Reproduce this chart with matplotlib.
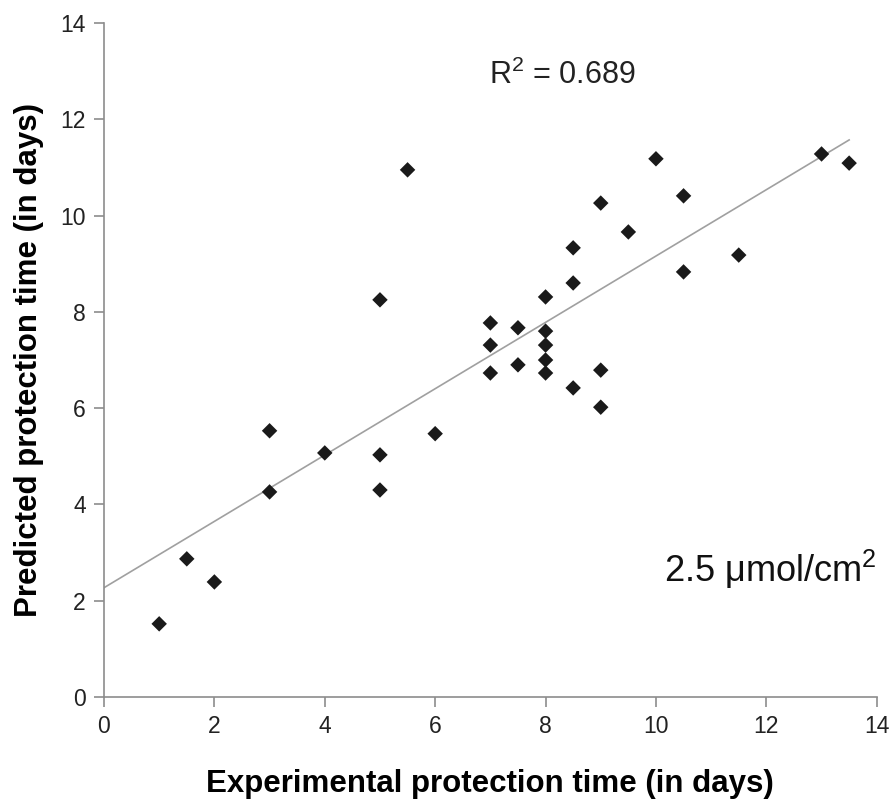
import matplotlib
matplotlib.use("Agg")
import matplotlib.pyplot as plt
import numpy as np

plt.rcParams['font.family'] = ['Liberation Sans', 'DejaVu Sans']

# Experimental vs predicted protection time (days)
experimental = [1, 1.5, 2, 3, 3, 4, 5, 5, 5, 5.5, 6,
                7, 7, 7, 7.5, 7.5, 8, 8, 8, 8, 8,
                8.5, 8.5, 8.5, 9, 9, 9, 9.5, 10, 10.5, 10.5,
                11.5, 13, 13.5]
predicted = [1.52, 2.87, 2.39, 5.53, 4.26, 5.07, 8.25, 5.03, 4.30, 10.95, 5.47,
             7.77, 7.31, 6.73, 7.67, 6.90, 8.31, 7.60, 7.31, 7.00, 6.73,
             9.33, 8.60, 6.42, 10.26, 6.79, 6.02, 9.66, 11.18, 10.41, 8.83,
             9.18, 11.28, 11.09]

# trend line as shown in the figure
fit_slope = 0.689
fit_intercept = 2.27
r_squared = 0.689

fig = plt.figure(figsize=(8.91, 8.02), dpi=100)
ax = fig.add_axes([0.1167, 0.1309, 0.8673, 0.8404])

xs = np.array([0, max(experimental)])
ax.plot(xs, fit_intercept + fit_slope * xs, color='#a0a0a0', lw=1.2, zorder=1)
ax.scatter(experimental, predicted, marker='D', s=62, color='#1a1a1a',
           edgecolors='none', zorder=2)

ax.set_xlim(0, 14)
ax.set_ylim(0, 14)
ax.set_xticks(range(0, 15, 2))
ax.set_yticks(range(0, 15, 2))
for s in ['top', 'right']:
    ax.spines[s].set_visible(False)
for s in ['left', 'bottom']:
    ax.spines[s].set_color('#8c8c8c')
    ax.spines[s].set_linewidth(1.2)
ax.tick_params(direction='out', length=7, width=1.2, color='#8c8c8c',
               labelsize=16.5, labelcolor='#222222', pad=6)

ax.set_xlabel('Experimental protection time (in days)', fontsize=22.5,
              fontweight='bold', labelpad=22)
ax.set_ylabel('Predicted protection time (in days)', fontsize=22.5,
              fontweight='bold', labelpad=12)

ax.text(8.3, 12.92, r'R$^{\mathregular{2}}$ = %.3f' % r_squared, fontsize=22,
        ha='center', va='center', color='#222222')
ax.text(14.0, 2.66, '2.5 μmol/cm$^{\\mathregular{2}}$', fontsize=26,
        ha='right', va='center', color='#111111')

fig.savefig('out.png', dpi=100)
